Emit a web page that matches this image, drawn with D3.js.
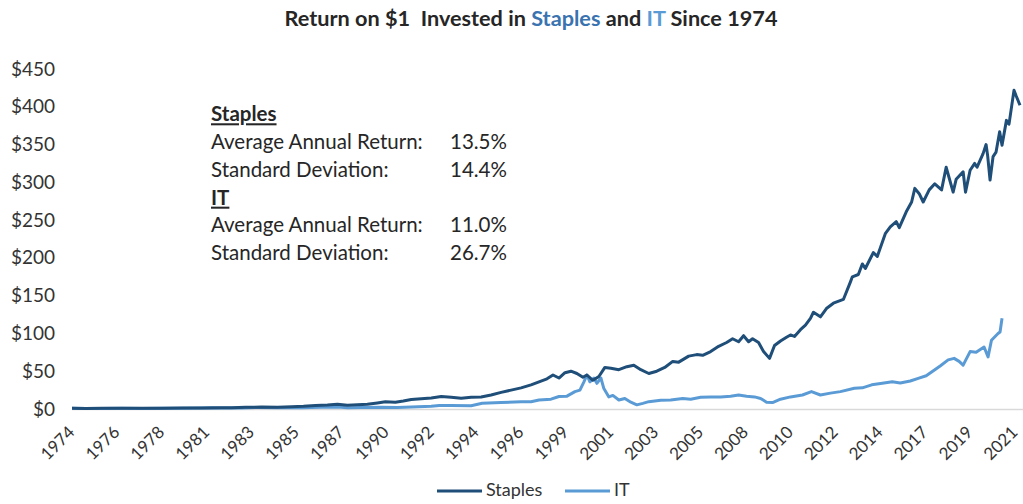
<!DOCTYPE html>
<html>
<head>
<meta charset="utf-8">
<script src="https://cdn.jsdelivr.net/npm/d3@7"></script>
<style>
  html, body { margin: 0; padding: 0; background: #fff; }
  svg { display: block; font-family: Lato, "Open Sans", sans-serif; }
</style>
</head>
<body>
<svg id="chart" width="1023" height="504"></svg>
<script>
// ---------- DATA ----------
const seriesNames = ["Staples", "IT"];
const seriesColors = ["#1f4e79", "#5b9bd5"];

const staplesYears = [1974.0,1974.7,1975.5,1976.5,1977.5,1978.5,1979.5,1980.5,1981.5,1982.0,1982.7,1983.5,1984.3,1985.0,1985.6,1986.2,1986.8,1987.3,1987.8,1988.3,1988.8,1989.3,1989.7,1990.2,1990.6,1991.0,1991.5,1992.0,1992.5,1993.0,1993.5,1994.0,1994.5,1995.0,1995.5,1996.0,1996.5,1997.0,1997.4,1997.8,1998.1,1998.4,1998.7,1999.0,1999.3,1999.6,1999.8,2000.1,2000.4,2000.7,2001.0,2001.4,2001.8,2002.15,2002.5,2002.9,2003.3,2003.7,2004.1,2004.4,2004.9,2005.3,2005.6,2006.0,2006.4,2006.8,2007.1,2007.4,2007.65,2007.9,2008.1,2008.4,2008.65,2008.95,2009.2,2009.5,2009.8,2010.0,2010.2,2010.5,2010.75,2011.0,2011.15,2011.5,2011.8,2012.15,2012.65,2013.0,2013.1,2013.4,2013.6,2013.75,2014.15,2014.35,2014.75,2015.0,2015.3,2015.45,2015.8,2016.07,2016.23,2016.45,2016.65,2016.95,2017.23,2017.57,2017.8,2018.15,2018.3,2018.65,2018.77,2019.0,2019.23,2019.35,2019.65,2019.8,2019.88,2020.0,2020.15,2020.3,2020.48,2020.6,2020.82,2020.95,2021.2,2021.3,2021.5];
const staplesValues = [1.0,0.8,1.0,1.1,1.1,1.1,1.2,1.3,1.6,1.5,2.2,2.6,2.4,3.0,3.6,4.6,5.2,6.4,5.0,5.6,6.2,8.0,9.5,9.0,10.5,12.5,13.5,14.5,16.5,15.5,14.2,15.5,15.8,18.5,22,25,28,32,36,40,45,41,48,50,47,42,45,38,43,55,54,52,56,58,52,47,50,55,63,62,70,72,71,76,83,88,93,89,97,89,93,88,76,67,84,90,95,98,96,105,111,120,128,122,133,140,145,168,175,178,192,186,207,202,232,241,248,240,261,274,292,285,274,290,298,290,320,287,304,314,287,316,325,320,338,350,335,303,334,340,367,349,382,377,422,415,402];

const itYears = [1974.0,1974.7,1975.5,1976.5,1977.5,1978.5,1979.5,1980.5,1981.0,1981.5,1982.5,1983.3,1984.3,1985.5,1986.5,1987.3,1987.8,1988.5,1989.5,1990.3,1991.0,1992.0,1992.4,1993.0,1994.0,1994.55,1995.5,1996.5,1997.0,1997.4,1998.0,1998.4,1998.8,1999.2,1999.45,1999.65,1999.8,1999.95,2000.15,2000.3,2000.5,2000.65,2000.9,2001.1,2001.4,2001.7,2002.0,2002.3,2002.6,2002.9,2003.5,2004.0,2004.6,2005.0,2005.5,2006.0,2006.5,2007.0,2007.4,2007.8,2008.2,2008.5,2008.8,2009.1,2009.5,2010.0,2010.6,2011.05,2011.5,2012.0,2012.5,2013.2,2013.6,2014.07,2014.6,2015.1,2015.5,2016.0,2016.4,2016.8,2017.07,2017.5,2017.9,2018.2,2018.45,2018.65,2019.0,2019.3,2019.7,2019.9,2020.07,2020.4,2020.5,2020.6];
const itValues = [1.0,0.6,0.8,0.9,0.8,0.9,1.0,1.4,1.6,1.2,1.3,2.0,1.6,1.8,2.2,2.6,1.8,2.0,2.4,2.0,2.8,3.5,4.5,4.6,4.4,7.5,8.5,9.5,9.7,12,13,16.5,17,23,25,36,45,36,41,34,41,27,16,18,12,14,9,5.5,7.5,9.7,11.5,12,14,13,15.5,16,16,17,18.5,17,16,14,9,8.5,13,16,18.5,23,18.5,21,23,27.5,28,32,34,36,34.5,37,40.6,44,49,57,65,67,63,58,76,75,82,69,91,100,102,120];

const yTicks = [0, 50, 100, 150, 200, 250, 300, 350, 400, 450];
const xTickLabels = ["1974","1976","1978","1981","1983","1985","1987","1990","1992","1994","1996","1999","2001","2003","2005","2008","2010","2012","2014","2017","2019","2021"];
const xTickStepYears = 2.25; // Excel category axis: one label every 27 months

const statLabels = ["Staples", "Average Annual Return:", "Standard Deviation:", "IT", "Average Annual Return:", "Standard Deviation:"];
const statValues = ["", "13.5%", "14.4%", "", "11.0%", "26.7%"];

// ---------- CHART ----------
const svg = d3.select("#chart");

const x = d3.scaleLinear().domain([1974, 2021.5]).range([72, 1020]);
const y = d3.scaleLinear().domain([0, 450]).range([409, 69]);

// title
const title = svg.append("text")
  .attr("x", 531).attr("y", 26)
  .attr("text-anchor", "middle")
  .attr("font-weight", "bold")
  .attr("font-size", 20)
  .attr("fill", "#262626")
  .attr("textLength", 493)
  .attr("lengthAdjust", "spacingAndGlyphs")
  .style("white-space", "pre");
title.append("tspan").text("Return on $1  Invested in ");
title.append("tspan").attr("fill", "#3a73b0").text("Staples");
title.append("tspan").text(" and ");
title.append("tspan").attr("fill", "#5b9bd5").text("IT");
title.append("tspan").text(" Since 1974");

// y axis labels (no line)
const yAxis = d3.axisLeft(y).tickValues(yTicks).tickSize(0).tickPadding(0)
  .tickFormat(d => "$" + d);
const gy = svg.append("g").attr("transform", "translate(55,0)").call(yAxis);
gy.select(".domain").remove();
gy.selectAll("text")
  .attr("font-family", "Lato, 'Open Sans', sans-serif")
  .attr("font-size", 19)
  .attr("fill", "#333");

// x axis baseline + labels
const xTickVals = xTickLabels.map((_, i) => 1974 + i * xTickStepYears);
const xAxis = d3.axisBottom(x).tickValues(xTickVals).tickSize(0)
  .tickFormat((d, i) => xTickLabels[i]);
const gx = svg.append("g").attr("transform", `translate(0,${y(0)})`).call(xAxis);
gx.select(".domain").attr("stroke", "#d9d9d9").attr("stroke-width", 1.5)
  .attr("d", `M72,0.5H1023`);
gx.selectAll("text")
  .attr("font-family", "Lato, 'Open Sans', sans-serif")
  .attr("font-size", 17)
  .attr("fill", "#333")
  .attr("text-anchor", "end")
  .attr("dy", "0.35em")
  .attr("transform", "translate(-1,20) rotate(-45)")
  .attr("y", 0);

// lines
const line = d3.line().x(d => x(d[0])).y(d => y(d[1]));
const itData = itYears.map((t, i) => [t, itValues[i]]);
const stData = staplesYears.map((t, i) => [t, staplesValues[i]]);

svg.append("path").datum(itData)
  .attr("d", line).attr("fill", "none")
  .attr("stroke", seriesColors[1]).attr("stroke-width", 3)
  .attr("stroke-linejoin", "round");
svg.append("path").datum(stData)
  .attr("d", line).attr("fill", "none")
  .attr("stroke", seriesColors[0]).attr("stroke-width", 3)
  .attr("stroke-linejoin", "round");

// stats annotation
const statTop = 116, statStep = 27.8;
statLabels.forEach((lab, i) => {
  const isHead = statValues[i] === "";
  svg.append("text")
    .attr("x", 211).attr("y", statTop + i * statStep)
    .attr("dominant-baseline", "middle")
    .attr("font-size", 20.5)
    .attr("font-weight", isHead ? "bold" : "normal")
    .attr("text-decoration", isHead ? "underline" : null)
    .attr("fill", "#262626")
    .text(lab);
  if (!isHead) {
    svg.append("text")
      .attr("x", 450).attr("y", statTop + i * statStep)
      .attr("dominant-baseline", "middle")
      .attr("font-size", 20.5)
      .attr("fill", "#262626")
      .text(statValues[i]);
  }
});

// legend
const legend = svg.append("g").attr("transform", "translate(0,491)");
const legendX = [437, 565];
seriesNames.forEach((name, i) => {
  legend.append("line")
    .attr("x1", legendX[i]).attr("x2", legendX[i] + 45)
    .attr("y1", 0).attr("y2", 0)
    .attr("stroke", seriesColors[i]).attr("stroke-width", 3);
  legend.append("text")
    .attr("x", legendX[i] + 49).attr("y", 0)
    .attr("dominant-baseline", "middle")
    .attr("font-size", 18)
    .attr("fill", "#333")
    .text(name);
});
</script>
</body>
</html>
